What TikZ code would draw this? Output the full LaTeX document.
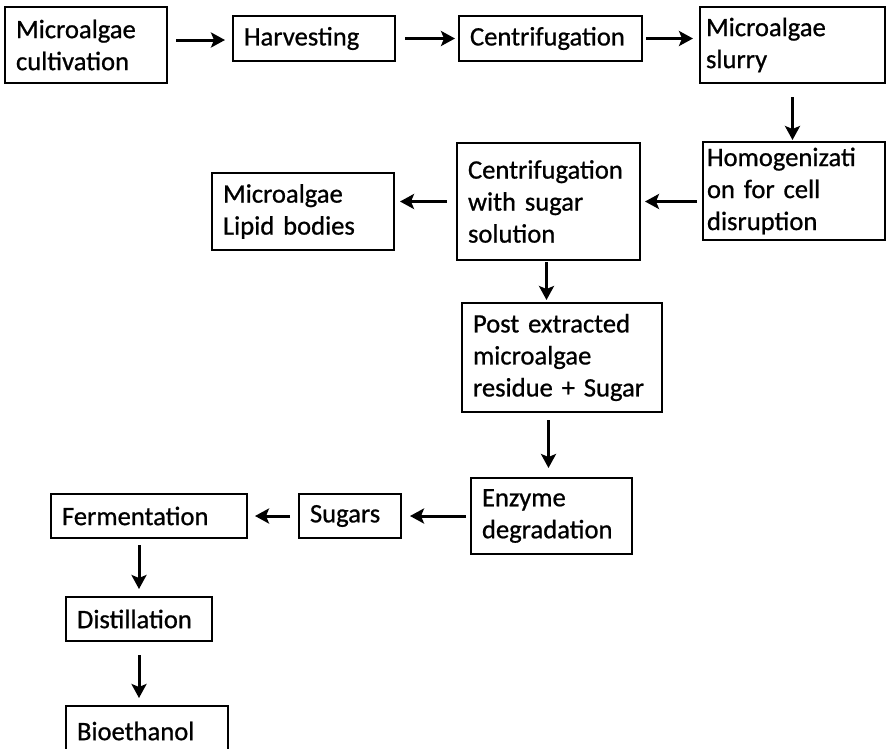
\documentclass[tikz,border=0pt]{standalone}
\usepackage{fontspec}
\setmainfont{Carlito}[FakeBold=0.8]
\usetikzlibrary{arrows.meta}
\begin{document}
\begin{tikzpicture}[x=1pt, y=-1pt,
  box/.style={draw, line width=1.8pt, anchor=north west, align=left,
    inner xsep=11pt, inner ysep=0pt, outer sep=0pt,
    font=\fontsize{26.6}{32}\selectfont},
  arr/.style={line width=3pt, -{Stealth[length=14pt,width=15pt,inset=3pt]}}]
  % page area; the last box runs past the lower edge
  \clip (0,0) rectangle (886,748);

  % process steps
  \node[box, minimum width=162pt, minimum height=76pt, text width=140pt] (cult) at (5,7) {Microalgae\\cultivation};
  \node[box, minimum width=162pt, minimum height=45pt, text width=140pt] (harv) at (233,16) {Harvesting};
  \node[box, minimum width=183pt, minimum height=45pt, text width=161pt] (cent) at (459,16) {Centrifugation};
  \node[box, inner xsep=6pt, minimum width=185pt, minimum height=76pt, text width=173pt] (slurry) at (700,7) {Microalgae\\slurry};
  \node[box, inner xsep=4pt, minimum width=182pt, minimum height=98pt, text width=174pt] (homog) at (703,142) {Homogenizati\\on for cell\\disruption};
  \node[box, minimum width=183pt, minimum height=117pt, text width=161pt] (cs) at (457,143) {Centrifugation\\with sugar\\solution};
  \node[box, minimum width=182pt, minimum height=77pt, text width=160pt] (lipid) at (212,173) {Microalgae\\Lipid bodies};
  \node[box, minimum width=200pt, minimum height=109pt, text width=178pt] (post) at (462,303) {Post extracted\\microalgae\\residue + Sugar};
  \node[box, minimum width=161pt, minimum height=76pt, text width=139pt] (enz) at (471,478) {Enzyme\\degradation};
  \node[box, minimum width=102pt, minimum height=44pt, text width=80pt] (sugars) at (299,494) {Sugars};
  \node[box, minimum width=196pt, minimum height=44pt, text width=174pt] (ferm) at (51,494) {Fermentation};
  \node[box, minimum width=146pt, minimum height=44pt, text width=124pt] (dist) at (66,597) {Distillation};
  \node[box, minimum width=162pt, minimum height=50pt, text width=140pt] (bio) at (66,706) {Bioethanol};

  % flow arrows
  \draw[arr, shorten <=9pt, shorten >=8pt] ([yshift=-1.5pt]harv.west -| cult.east) -- ([yshift=-1.5pt]harv.west);
  \draw[arr, shorten <=10pt, shorten >=4pt] (harv.east) -- (cent.west);
  \draw[arr, shorten <=4pt, shorten >=7pt] (cent.east) -- (cent.east -| slurry.west);
  \draw[arr, shorten <=14pt, shorten >=2pt] (slurry.south) -- (slurry.south |- homog.north);
  \draw[arr, shorten <=6pt, shorten >=5pt] (cs.east -| homog.west) -- (cs.east);
  \draw[arr, shorten <=10pt, shorten >=6pt] (cs.west) -- (cs.west -| lipid.east);
  \draw[arr, shorten <=2pt, shorten >=3pt] ([xshift=-2pt]cs.south) -- ([xshift=-2pt]cs.south |- post.north);
  \draw[arr, shorten <=8pt, shorten >=10pt] ([xshift=-3pt]enz.north |- post.south) -- ([xshift=-3pt]enz.north);
  \draw[arr, shorten <=5pt, shorten >=9pt] (enz.west) -- (enz.west -| sugars.east);
  \draw[arr, shorten <=9pt, shorten >=8pt] (sugars.west) -- (sugars.west -| ferm.east);
  \draw[arr, shorten <=7pt, shorten >=8pt] (ferm.south -| dist.north) -- (dist.north);
  \draw[arr, shorten <=14pt, shorten >=8pt] (dist.south) -- (dist.south |- bio.north);
\end{tikzpicture}
\end{document}
